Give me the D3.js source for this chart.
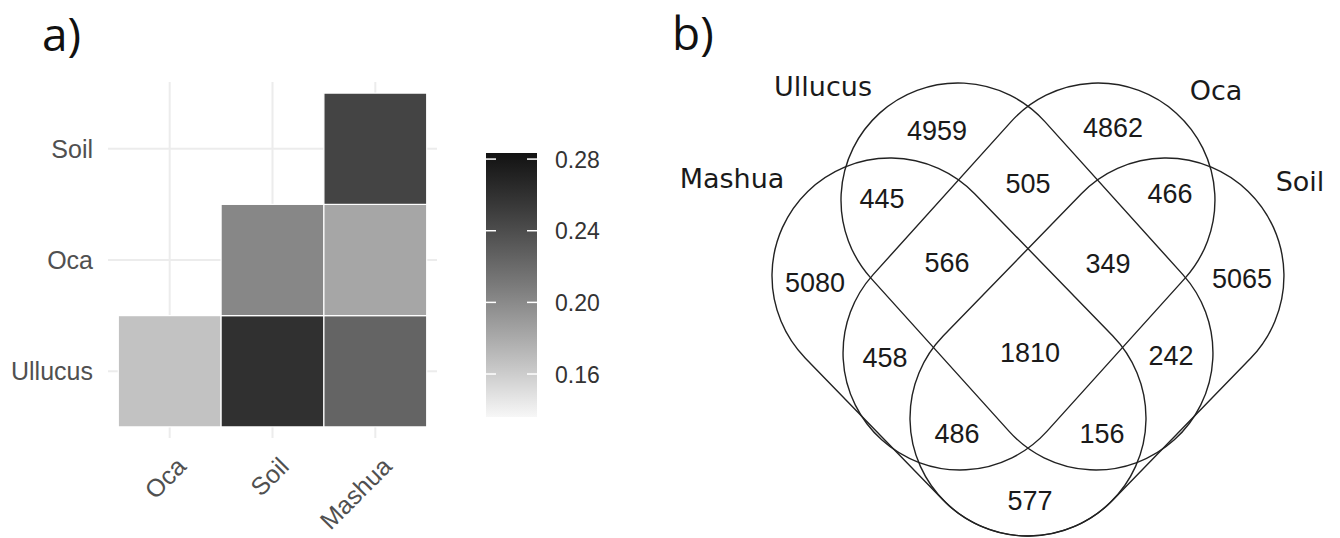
<!DOCTYPE html>
<html>
<head>
<meta charset="utf-8">
<script src="https://cdn.jsdelivr.net/npm/d3@7"></script>
<style>
  html, body { margin: 0; padding: 0; background: #ffffff; }
  svg { display: block; }
</style>
</head>
<body>
<svg id="fig" width="1340" height="538"></svg>
<script>
// ---------- panel a: pairwise dissimilarity between sample groups ----------
const heatCols = ["Oca", "Soil", "Mashua"];
const heatRows = ["Ullucus", "Oca", "Soil"];          // listed bottom to top
const cellRow  = ["Ullucus", "Ullucus", "Ullucus", "Oca", "Oca", "Soil"];
const cellCol  = ["Oca", "Soil", "Mashua", "Soil", "Mashua", "Mashua"];
const cellVal  = [0.166, 0.260, 0.224, 0.202, 0.183, 0.246];
const legendTicks  = [0.16, 0.20, 0.24, 0.28];
const legendLimits = [0.136, 0.2834];

// ---------- panel b: shared and unique features among the four groups ----------
const vennSets     = ["Mashua", "Ullucus", "Oca", "Soil"];
const regionKeys   = ["1000", "0100", "0010", "0001", "1100", "0110", "0011",
                      "1010", "0101", "1110", "0111", "1011", "1101", "1001", "1111"];
const regionCounts = [5080, 4959, 4862, 5065, 445, 505, 466,
                      458, 242, 566, 349, 486, 156, 577, 1810];

// Venn geometry in a unit frame: each set is a capsule (two end-cap centres + radius)
const vennShapes = [
  { set: "Mashua",  x1: 0.224, y1: 0.472, x2: 0.500, y2: 0.756, r: 0.236 },
  { set: "Ullucus", x1: 0.360, y1: 0.320, x2: 0.636, y2: 0.626, r: 0.234 },
  { set: "Oca",     x1: 0.640, y1: 0.320, x2: 0.364, y2: 0.626, r: 0.234 },
  { set: "Soil",    x1: 0.776, y1: 0.472, x2: 0.500, y2: 0.756, r: 0.236 }
];
// where each region count sits (unit frame, centre of the number)
const regionAnchor = {
  "1000": [0.074, 0.484], "0100": [0.318, 0.180], "0010": [0.670, 0.174], "0001": [0.928, 0.476],
  "1100": [0.208, 0.316], "0110": [0.500, 0.286], "0011": [0.784, 0.306],
  "1010": [0.214, 0.634], "0101": [0.786, 0.630],
  "1110": [0.338, 0.444], "0111": [0.660, 0.446],
  "1011": [0.358, 0.786], "1101": [0.648, 0.786],
  "1001": [0.504, 0.920], "1111": [0.504, 0.624]
};
// set-name positions (unit frame, text baseline centre)
const setLabelAnchor = {
  "Mashua": [-0.092, 0.296], "Ullucus": [0.090, 0.112],
  "Oca": [0.876, 0.120], "Soil": [1.044, 0.302]
};

const svg = d3.select("#fig");
const defs = svg.append("defs");

// ======================= panel a =======================
const gA = svg.append("g");
const x = d3.scaleBand().domain(heatCols).range([108, 437]).paddingInner(0).paddingOuter(0.1);
const y = d3.scaleBand().domain(heatRows.slice().reverse()).range([82, 438]).paddingInner(0).paddingOuter(0.1);
const fill = d3.scaleLinear().domain(legendLimits).range(["#f7f7f7", "#121212"]).interpolate(d3.interpolateLab);

// grid
gA.selectAll("line.vgrid").data(heatCols).join("line")
  .attr("x1", d => x(d) + x.bandwidth() / 2).attr("x2", d => x(d) + x.bandwidth() / 2)
  .attr("y1", 82).attr("y2", 438)
  .attr("stroke", "#ececec").attr("stroke-width", 2);
gA.selectAll("line.hgrid").data(heatRows).join("line")
  .attr("y1", d => y(d) + y.bandwidth() / 2).attr("y2", d => y(d) + y.bandwidth() / 2)
  .attr("x1", 108).attr("x2", 437)
  .attr("stroke", "#ececec").attr("stroke-width", 2);

// tiles
const cells = cellVal.map((v, i) => ({ row: cellRow[i], col: cellCol[i], v }));
gA.selectAll("rect.tile").data(cells).join("rect")
  .attr("x", d => x(d.col)).attr("y", d => y(d.row))
  .attr("width", x.bandwidth()).attr("height", y.bandwidth())
  .attr("fill", d => fill(d.v))
  .attr("stroke", "#ffffff").attr("stroke-width", 1.2);

// axis labels
gA.selectAll("text.ylab").data(heatRows).join("text")
  .attr("x", 93).attr("y", d => y(d) + y.bandwidth() / 2 + 9)
  .attr("text-anchor", "end")
  .attr("font-family", "Liberation Sans, Arial, sans-serif").attr("font-size", 25)
  .attr("fill", "#505050").text(d => d);

gA.selectAll("text.xlab").data(heatCols).join("text")
  .attr("x", d => x(d) + x.bandwidth() / 2 + 18).attr("y", 468)
  .attr("transform", d => `rotate(-45, ${x(d) + x.bandwidth() / 2 + 18}, 468)`)
  .attr("text-anchor", "end")
  .attr("font-family", "Liberation Sans, Arial, sans-serif").attr("font-size", 25)
  .attr("fill", "#505050").text(d => d);

// colour bar
const ly = d3.scaleLinear().domain(legendLimits).range([417, 153]);
const grad = defs.append("linearGradient").attr("id", "barGrad")
  .attr("x1", 0).attr("y1", 1).attr("x2", 0).attr("y2", 0);
d3.range(0, 1.0001, 0.1).forEach(t => {
  grad.append("stop").attr("offset", t)
    .attr("stop-color", fill(legendLimits[0] + t * (legendLimits[1] - legendLimits[0])));
});
gA.append("rect").attr("x", 486).attr("y", ly(legendLimits[1]))
  .attr("width", 51).attr("height", ly(legendLimits[0]) - ly(legendLimits[1]))
  .attr("fill", "url(#barGrad)");
legendTicks.forEach(t => {
  gA.append("line").attr("x1", 486).attr("x2", 496).attr("y1", ly(t)).attr("y2", ly(t))
    .attr("stroke", "#ffffff").attr("stroke-width", 1.5);
  gA.append("line").attr("x1", 527).attr("x2", 537).attr("y1", ly(t)).attr("y2", ly(t))
    .attr("stroke", "#ffffff").attr("stroke-width", 1.5);
});
gA.selectAll("text.leg").data(legendTicks).join("text")
  .attr("x", 555).attr("y", d => ly(d) + 8.5)
  .attr("font-family", "Liberation Sans, Arial, sans-serif").attr("font-size", 23)
  .attr("fill", "#333333").text(d => d3.format(".2f")(d));

// panel tag
svg.append("text").attr("x", 42).attr("y", 51)
  .attr("font-family", "Open Sans, sans-serif").attr("font-size", 46)
  .attr("fill", "#111111").text("a)");

// ======================= panel b =======================
const gB = svg.append("g");
const vx = d3.scaleLinear().domain([0, 1]).range([778, 1278]);
const vy = d3.scaleLinear().domain([0, 1]).range([40, 540]);

function capsulePath(s) {
  const x1 = vx(s.x1), y1 = vy(s.y1), x2 = vx(s.x2), y2 = vy(s.y2);
  const r = vx(s.r) - vx(0);
  const L = Math.hypot(x2 - x1, y2 - y1);
  const dx = (x2 - x1) / L, dy = (y2 - y1) / L;
  const nx = -dy, ny = dx;
  return `M${x1 + r * nx},${y1 + r * ny}` +
         `L${x2 + r * nx},${y2 + r * ny}` +
         `A${r},${r} 0 0 0 ${x2 - r * nx},${y2 - r * ny}` +
         `L${x1 - r * nx},${y1 - r * ny}` +
         `A${r},${r} 0 0 0 ${x1 + r * nx},${y1 + r * ny}Z`;
}

gB.selectAll("path.set").data(vennShapes).join("path")
  .attr("d", capsulePath)
  .attr("fill", "none").attr("stroke", "#222222").attr("stroke-width", 1.4);

const regions = regionKeys.map((k, i) => ({ key: k, n: regionCounts[i] }));
gB.selectAll("text.count").data(regions).join("text")
  .attr("x", d => vx(regionAnchor[d.key][0]))
  .attr("y", d => vy(regionAnchor[d.key][1]))
  .attr("dy", "0.36em")
  .attr("text-anchor", "middle")
  .attr("font-family", "Liberation Sans, Arial, sans-serif").attr("font-size", 27)
  .attr("fill", "#1a1a1a").text(d => d.n);

gB.selectAll("text.setname").data(vennSets).join("text")
  .attr("x", d => vx(setLabelAnchor[d][0]))
  .attr("y", d => vy(setLabelAnchor[d][1]))
  .attr("text-anchor", "middle")
  .attr("font-family", "DejaVu Sans, sans-serif").attr("font-size", 27)
  .attr("fill", "#1a1a1a").text(d => d);

svg.append("text").attr("x", 672).attr("y", 50)
  .attr("font-family", "Open Sans, sans-serif").attr("font-size", 46)
  .attr("fill", "#111111").text("b)");
</script>
</body>
</html>
